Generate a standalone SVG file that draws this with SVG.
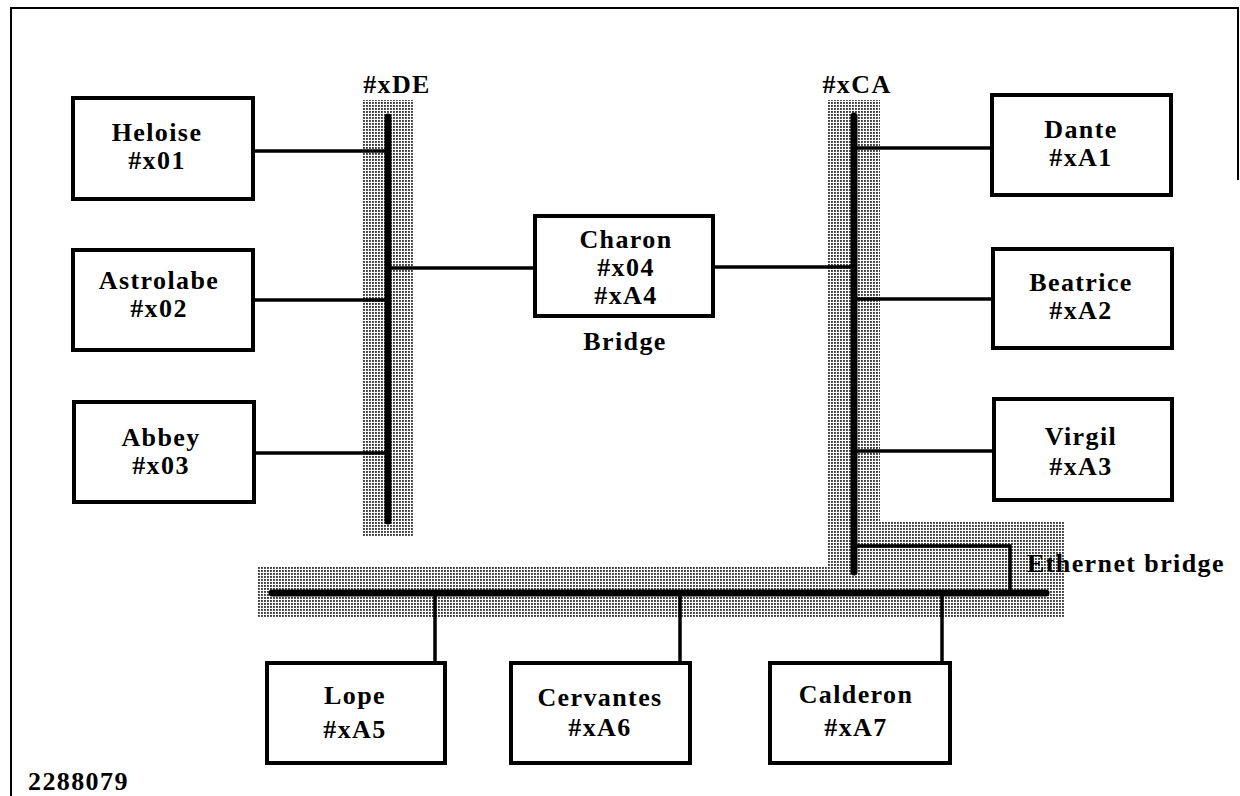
<svg xmlns="http://www.w3.org/2000/svg" width="1240" height="796" viewBox="0 0 1240 796">
<defs>
<pattern id="dots" width="3" height="3" patternUnits="userSpaceOnUse">
<rect width="3" height="3" fill="#ffffff"/>
<rect x="0" y="0" width="1.9" height="1.9" fill="#3a3a3a"/>
</pattern>
<style>
.box{fill:#fff;stroke:#000;stroke-width:4}
.lbl{font-family:"Liberation Serif","Times New Roman",serif;font-weight:bold;font-size:26px;letter-spacing:1.4px;fill:#000;text-anchor:middle}
.lbls{font-family:"Liberation Serif","Times New Roman",serif;font-weight:bold;font-size:26px;letter-spacing:1.4px;fill:#000}
.bus{stroke:#000;stroke-width:7;fill:none;stroke-linecap:round}
.link{stroke:#000;stroke-width:3.5;fill:none}
.band{fill:url(#dots)}
.frame{stroke:#000;stroke-width:2;fill:none}
</style>
</defs>
<rect width="1240" height="796" fill="#fff"/>
<g id="frame">
<path class="frame" d="M11,796 L11,8 L1238,8 L1238,180"/>
</g>
<g id="bands">
<rect class="band" x="362" y="100" width="51" height="437"/>
<path class="band" d="M827,100 L880,100 L880,522 L1065,522 L1065,618 L257,618 L257,567 L827,567 Z"/>
</g>
<g id="connectors">
<line class="bus" x1="388" y1="117" x2="388" y2="521"/>
<line class="bus" x1="854" y1="116" x2="854" y2="572"/>
<line class="bus" x1="272" y1="593" x2="1046" y2="593"/>
<path class="link" d="M856,546 L1010,546 L1010,593" stroke-width="4"/>
<line class="link" x1="255" y1="151" x2="388" y2="151"/>
<line class="link" x1="255" y1="300" x2="388" y2="300"/>
<line class="link" x1="255" y1="453" x2="388" y2="453"/>
<line class="link" x1="388" y1="268" x2="534" y2="268"/>
<line class="link" x1="714" y1="267" x2="854" y2="267"/>
<line class="link" x1="854" y1="148" x2="991" y2="148"/>
<line class="link" x1="854" y1="299" x2="992" y2="299"/>
<line class="link" x1="854" y1="451" x2="993" y2="451"/>
<line class="link" x1="435" y1="593" x2="435" y2="662"/>
<line class="link" x1="680" y1="593" x2="680" y2="662"/>
<line class="link" x1="942" y1="593" x2="942" y2="662"/>
</g>
<g id="net-xDE"><text class="lbl" x="397" y="93">#xDE</text></g>
<g id="net-xCA"><text class="lbl" x="857" y="93">#xCA</text></g>
<g id="ethernet-bridge"><text class="lbls" x="1027" y="572">Ethernet bridge</text></g>
<g id="heloise">
<rect class="box" x="73" y="98" width="180" height="101"/>
<text class="lbl" x="157" y="141">Heloise</text>
<text class="lbl" x="157" y="169">#x01</text>
</g>
<g id="astrolabe">
<rect class="box" x="73" y="250" width="180" height="100"/>
<text class="lbl" x="159" y="289">Astrolabe</text>
<text class="lbl" x="159" y="317">#x02</text>
</g>
<g id="abbey">
<rect class="box" x="74" y="402" width="180" height="100"/>
<text class="lbl" x="161" y="446">Abbey</text>
<text class="lbl" x="161" y="474">#x03</text>
</g>
<g id="charon">
<rect class="box" x="535" y="216" width="178" height="100"/>
<text class="lbl" x="626" y="248">Charon</text>
<text class="lbl" x="626" y="276">#x04</text>
<text class="lbl" x="626" y="304">#xA4</text>
<text class="lbl" x="625" y="350">Bridge</text>
</g>
<g id="dante">
<rect class="box" x="992" y="95" width="179" height="100"/>
<text class="lbl" x="1081" y="138">Dante</text>
<text class="lbl" x="1081" y="166">#xA1</text>
</g>
<g id="beatrice">
<rect class="box" x="993" y="249" width="179" height="99"/>
<text class="lbl" x="1081" y="291">Beatrice</text>
<text class="lbl" x="1081" y="319">#xA2</text>
</g>
<g id="virgil">
<rect class="box" x="994" y="399" width="178" height="101"/>
<text class="lbl" x="1081" y="445">Virgil</text>
<text class="lbl" x="1081" y="475">#xA3</text>
</g>
<g id="lope">
<rect class="box" x="267" y="663" width="178" height="100"/>
<text class="lbl" x="355" y="704">Lope</text>
<text class="lbl" x="355" y="738">#xA5</text>
</g>
<g id="cervantes">
<rect class="box" x="511" y="663" width="179" height="100"/>
<text class="lbl" x="600" y="706">Cervantes</text>
<text class="lbl" x="600" y="736">#xA6</text>
</g>
<g id="calderon">
<rect class="box" x="770" y="663" width="180" height="100"/>
<text class="lbl" x="856" y="703">Calderon</text>
<text class="lbl" x="856" y="736">#xA7</text>
</g>
<g id="figure-id">
<text class="lbls" x="28" y="790" font-size="23" letter-spacing="0.5">2288079</text>
</g>
</svg>
